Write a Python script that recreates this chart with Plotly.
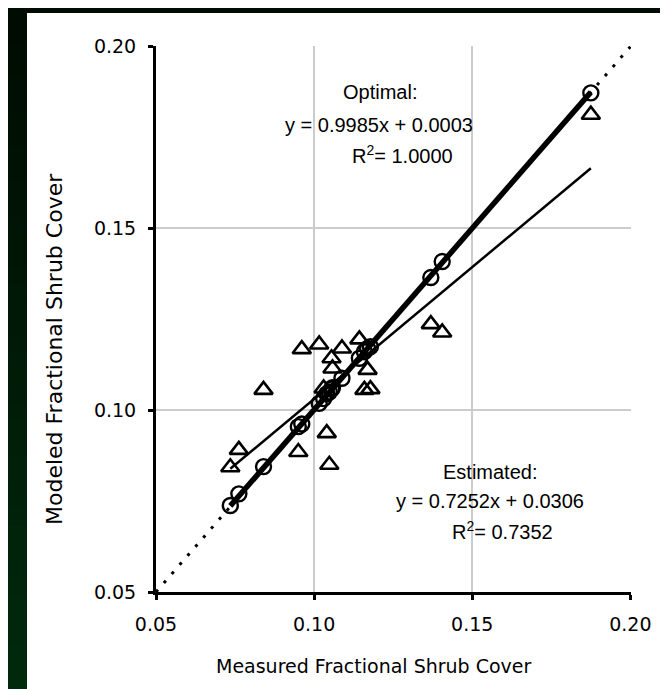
import plotly.graph_objects as go
import numpy as np

# ---------------- data ----------------
measured = [0.0735, 0.0762, 0.0840, 0.0950, 0.0961, 0.1016, 0.1030, 0.1040, 0.1048, 0.1055,
            0.1058, 0.1088, 0.1143, 0.1159, 0.1169, 0.1178, 0.1369, 0.1405, 0.1875]
estimated = [0.0843, 0.0891, 0.1056, 0.0885, 0.1168, 0.1181, 0.1060, 0.0937, 0.0850, 0.1143,
             0.1115, 0.1170, 0.1195, 0.1056, 0.1111, 0.1058, 0.1237, 0.1214, 0.1813]
optimal = [0.0738, 0.0770, 0.0845, 0.0955, 0.0962, 0.1019, 0.1032, 0.1045, 0.1050, 0.1058,
           0.1062, 0.1088, 0.1143, 0.1161, 0.1170, 0.1175, 0.1365, 0.1409, 0.1873]

opt_slope, opt_intercept = 0.9985, 0.0003
est_slope, est_intercept = 0.7252, 0.0306
one_to_one = [0.05, 0.20]

tick_vals = [0.05, 0.10, 0.15, 0.20]
tick_text = ["0.05", "0.10", "0.15", "0.20"]

x_title = "Measured Fractional Shrub Cover"
y_title = "Modeled Fractional Shrub Cover"
opt_lines = ["Optimal:", "y = 0.9985x + 0.0003", "R<sup>2</sup>= 1.0000"]
est_lines = ["Estimated:", "y = 0.7252x + 0.0306", "R<sup>2</sup>= 0.7352"]

# ---------------- layout geometry ----------------
W, H = 668, 689
ML, MR, MT, MB = 148, 45, 38, 105
PW, PH = W - ML - MR, H - MT - MB


def px_x(px):
    return (px - ML) / PW


def px_y(py):
    return (H - MB - py) / PH


fig = go.Figure()

# 1:1 dotted line
fig.add_trace(go.Scatter(x=one_to_one, y=one_to_one, mode="lines",
                         line=dict(color="black", width=3, dash="3px,9px"),
                         hoverinfo="skip", showlegend=False))

xr = np.array([min(measured), max(measured)])

# markers
fig.add_trace(go.Scatter(x=measured, y=estimated, mode="markers",
                         marker=dict(symbol="triangle-up-open", size=16, color="black",
                                     line=dict(width=2.6, color="black")),
                         showlegend=False))
fig.add_trace(go.Scatter(x=measured, y=optimal, mode="markers",
                         marker=dict(symbol="circle-open", size=15, color="black",
                                     line=dict(width=2.4, color="black")),
                         showlegend=False))

# fit lines
fig.add_trace(go.Scatter(x=xr, y=est_slope * xr + est_intercept, mode="lines",
                         line=dict(color="black", width=2.5), showlegend=False))
fig.add_trace(go.Scatter(x=xr, y=opt_slope * xr + opt_intercept, mode="lines",
                         line=dict(color="black", width=5.5), showlegend=False))

shapes = []
# dark left strip with vertical gradient
n = 40
for i in range(n):
    t = i / (n - 1)
    r, g, b = 0, int(12 + t * 30), int(2 + t * 11)
    y0 = H * i / n
    y1 = H * (i + 1) / n + 1
    shapes.append(dict(type="rect", xref="paper", yref="paper", layer="below",
                       x0=px_x(0), x1=px_x(19), y0=px_y(y1), y1=px_y(y0),
                       line=dict(width=0), fillcolor=f"rgb({r},{g},{b})"))
shapes.append(dict(type="rect", xref="paper", yref="paper", layer="below",
                   x0=px_x(0), x1=px_x(W), y0=px_y(5), y1=px_y(0),
                   line=dict(width=0), fillcolor="rgb(0,12,2)"))

# white boxes behind the equation texts (cover gridlines)
shapes.append(dict(type="rect", xref="paper", yref="paper", layer="between",
                   x0=px_x(276), x1=px_x(468), y0=px_y(162), y1=px_y(93),
                   line=dict(width=0), fillcolor="white"))
shapes.append(dict(type="rect", xref="paper", yref="paper", layer="between",
                   x0=px_x(386), x1=px_x(580), y0=px_y(541), y1=px_y(450),
                   line=dict(width=0), fillcolor="white"))

annotations = []
afont = dict(family="Liberation Sans, Arial, sans-serif", size=20, color="black")
for txt, cx, cy in zip(opt_lines, [372, 371, 394], [84, 117, 146]):
    annotations.append(dict(text=txt, x=px_x(cx), y=px_y(cy), xref="paper", yref="paper",
                            showarrow=False, font=afont, xanchor="center", yanchor="middle"))
for txt, cx, cy in zip(est_lines, [482, 482, 494], [464, 493, 522]):
    annotations.append(dict(text=txt, x=px_x(cx), y=px_y(cy), xref="paper", yref="paper",
                            showarrow=False, font=afont, xanchor="center", yanchor="middle"))

tfont = dict(family="DejaVu Sans, Verdana, sans-serif", size=19, color="black")
annotations.append(dict(text=x_title, x=px_x(366), y=px_y(658), xref="paper", yref="paper",
                        showarrow=False,
                        font=dict(family="DejaVu Sans, Verdana, sans-serif", size=19, color="black"),
                        xanchor="center", yanchor="middle"))
annotations.append(dict(text=y_title, x=px_x(46), y=px_y(341), xref="paper", yref="paper",
                        showarrow=False,
                        font=dict(family="DejaVu Sans, Verdana, sans-serif", size=22, color="black"),
                        textangle=-90, xanchor="center", yanchor="middle"))

axis_common = dict(range=[0.05, 0.2002], tickvals=tick_vals, ticktext=tick_text,
                   showline=True, linecolor="black", linewidth=3,
                   ticks="outside", ticklen=5, tickwidth=3, tickcolor="black",
                   showgrid=True, gridcolor="#cccccc", gridwidth=2,
                   zeroline=False, tickfont=tfont, ticklabelstandoff=8)

fig.update_layout(
    width=W, height=H,
    margin=dict(l=ML, r=MR, t=MT, b=MB),
    paper_bgcolor="white", plot_bgcolor="white",
    xaxis=axis_common, yaxis=axis_common,
    shapes=shapes, annotations=annotations,
    showlegend=False,
)

fig.write_html("out.html")
